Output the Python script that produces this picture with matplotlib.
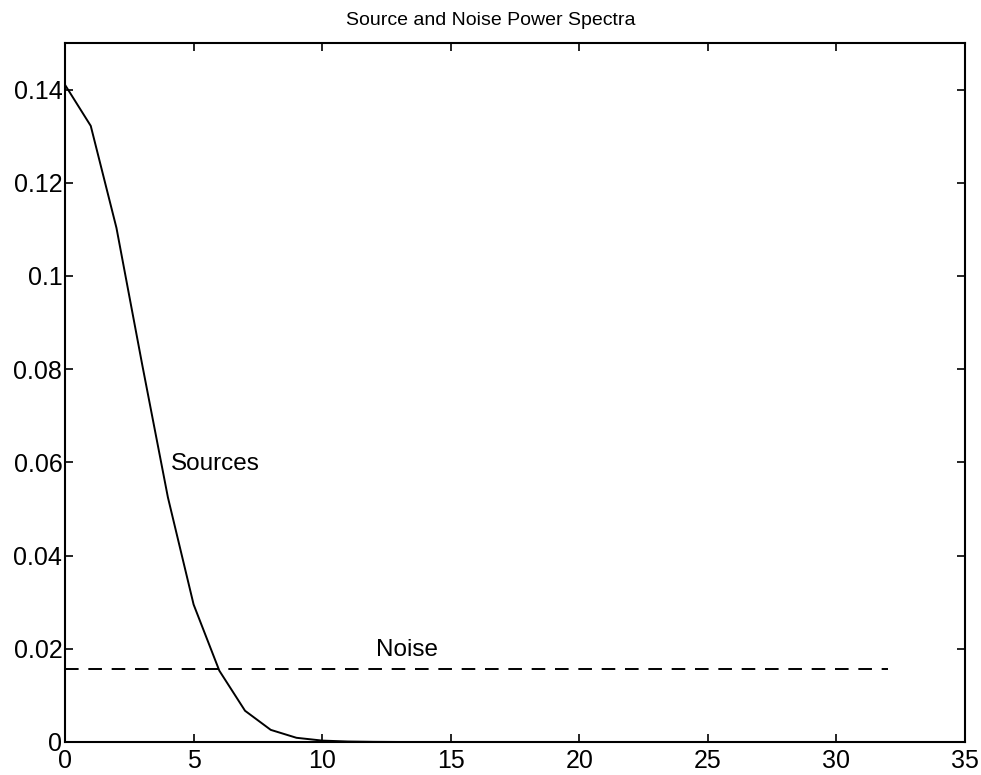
import matplotlib
matplotlib.use("Agg")
import matplotlib.pyplot as plt

# frequency bins and power values
freq = list(range(0, 33))
sources = [0.141, 0.1322, 0.1103, 0.081, 0.0525, 0.0295, 0.0153, 0.0067,
           0.0026, 0.0009, 0.0003, 0.0001, 0.00003] + [0.0] * 20
noise = [0.0156] * 33

xticks = [0, 5, 10, 15, 20, 25, 30, 35]
yticks = [0, 0.02, 0.04, 0.06, 0.08, 0.1, 0.12, 0.14]
ytick_labels = ["0", "0.02", "0.04", "0.06", "0.08", "0.1", "0.12", "0.14"]

plt.rcParams['font.family'] = ['Liberation Sans', 'DejaVu Sans']

fig = plt.figure(figsize=(9.81, 7.75), dpi=100)
ax = fig.add_axes([0.0663, 0.0426, 0.9174, 0.902])

ax.plot(freq, sources, color="black", linewidth=1.4)
ax.plot(freq, noise, color="black", linewidth=1.4, linestyle=(0, (7, 5)))

ax.text(4.1, 0.0596, "Sources", fontsize=17.5, va="center", ha="left")
ax.text(12.1, 0.0198, "Noise", fontsize=17.5, va="center", ha="left")

ax.set_xlim(0, 35)
ax.set_ylim(0, 0.15)
ax.set_xticks(xticks)
ax.set_xticklabels([str(t) for t in xticks])
ax.set_yticks(yticks)
ax.set_yticklabels(ytick_labels)
ax.tick_params(direction="in", length=6, width=1.2, labelsize=18,
               top=True, right=True, pad=2)
ax.tick_params(axis="x", pad=5)
for s in ax.spines.values():
    s.set_linewidth(1.5)

fig.text(0.5, 0.985, "Source and Noise Power Spectra", fontsize=14,
         ha="center", va="top")

fig.savefig("out.png", dpi=100)
